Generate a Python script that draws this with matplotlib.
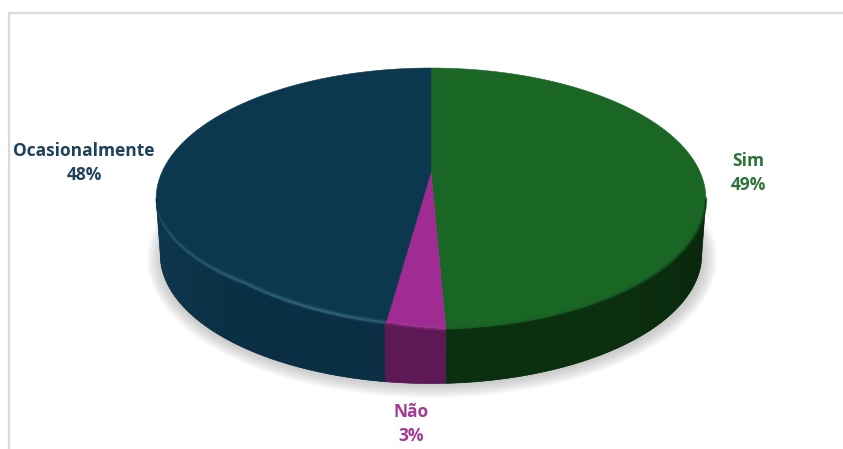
import numpy as np
import matplotlib
matplotlib.use("Agg")
import matplotlib.pyplot as plt
from matplotlib.collections import LineCollection
from matplotlib.patches import Ellipse, Polygon
from matplotlib.colors import to_rgb

categories = ["Sim", "Não", "Ocasionalmente"]
values = [49.3, 2.9, 47.8]
top_colors = ["#1a6625", "#a02b93", "#0c384f"]
side_colors = ["#0c3110", "#5e1a56", "#0a2e43"]
label_colors = ["#2f7339", "#a03a96", "#1d4259"]
label_xy = [(748, 173), (411, 424), (84, 163)]

W, H = 843, 449
fig = plt.figure(figsize=(W / 100, H / 100), dpi=100, facecolor="white")
ax = fig.add_axes([0, 0, 1, 1])
ax.set_xlim(0, W)
ax.set_ylim(H, 0)
ax.axis("off")

CX, APEX_Y, A, B, K = 431.0, 172.0, 269.0, 125.4, 0.206
DEPTH, SHRINK = 56.0, 0.985
FRONT = -0.2  # cosine of the angle where the disc is widest


def project(t, z=0.0):
    """t: clockwise angle from 12 o'clock, z: 0 top face, 1 bottom face."""
    u, v = np.sin(t), np.cos(t)
    w = 1 + K * v
    s = 1 + (SHRINK - 1) * z
    return np.column_stack([CX + A * s * u / w, APEX_Y + DEPTH * z - B * s * v / w])


def lift(t):
    """The wall reaches a little above the true rim on the front-left."""
    return np.interp(np.degrees(t), [177, 187, 215, 240, 258], [0, 5, 12, 6, 0], left=0, right=0)


def mix(c, other, f):
    c, other = np.array(to_rgb(c)), np.array(to_rgb(other))
    return c * (1 - f) + other * f


# soft shadow under the disc
for i in range(14):
    f = i / 13
    ax.add_patch(Ellipse((CX + 1, 259), 2 * (285 - 14 * f), 2 * (139 - 13 * f),
                         fc="#8a8a8a", ec="none", alpha=0.035, zorder=1))

total = sum(values)
edges = 2 * np.pi * np.concatenate([[0], np.cumsum(values)]) / total

# top face
for i in range(len(values)):
    ts = np.linspace(edges[i], edges[i + 1], 240)
    pts = np.vstack([[[CX, APEX_Y]], project(ts)])
    ax.fill(pts[:, 0], pts[:, 1], fc=top_colors[i], ec=top_colors[i], lw=0.4, zorder=2)

# side wall with a horizontal gradient, clipped to each slice's wall
xs = np.linspace(150, 712, 281)
for i in range(len(values)):
    ts = np.linspace(edges[i], edges[i + 1], 300)
    ts = ts[np.cos(ts) < FRONT]
    if len(ts) < 2:
        continue
    upper = project(ts, 0)
    upper[:, 1] -= lift(ts)
    lower = project(ts[::-1], 1)
    poly = Polygon(np.vstack([upper, lower]), closed=True, fc=side_colors[i], ec=side_colors[i],
                   lw=0.4, zorder=3, transform=ax.transData)
    ax.add_patch(poly)
    d = np.abs(xs - CX) / 275
    target = "#1c5570" if i == 2 else "#000000"
    strength = 0.22 * d ** 4 if i == 2 else 0.18 * d ** 4
    grad = np.array([mix(side_colors[i], target, s) for s in strength])[None, :, :]
    im = ax.imshow(grad, extent=(xs[0], xs[-1], 395, 190), aspect="auto", zorder=3.1,
                   interpolation="bilinear")
    im.set_clip_path(poly)
ax.set_xlim(0, W)
ax.set_ylim(H, 0)

# rounded rim following the front edge
for i in range(len(values)):
    ts = np.linspace(edges[i], edges[i + 1], 200)
    ts = ts[np.cos(ts) < FRONT]
    if len(ts) < 3:
        continue
    mids = (ts[:-1] + ts[1:]) / 2
    p = project(ts)
    p[:, 1] -= lift(ts)
    if i == 2:
        base, fade = "#3f7791", np.interp(np.degrees(mids), [187, 200, 240, 258], [0.85, 1, 0.55, 0])
    elif i == 1:
        base, fade = "#b34aa7", np.full(len(mids), 0.6)
    else:
        base, fade = "#12491a", np.clip(np.sin(mids), 0.3, 1)
    for dy, lw, al in [(-1.8, 2.2, 0.25), (-0.4, 1.6, 0.6), (1.0, 1.6, 0.25)]:
        q = p + [0, dy]
        segs = np.stack([q[:-1], q[1:]], axis=1)
        rgba = [(*to_rgb(base), al * s) for s in fade]
        ax.add_collection(LineCollection(segs, colors=rgba, linewidths=lw, zorder=4))

# frame of the chart area
ax.plot([8.5, 8.5, W], [H, 13, 13], color="#d9d9d9", lw=1.6, zorder=0, solid_joinstyle="miter")

# labels
for name, val, col, (x, y) in zip(categories, values, label_colors, label_xy):
    ax.text(x, y, f"{name}\n{round(val)}%", color=col, ha="center", va="center",
            fontsize=12.5, fontweight="bold", family="Open Sans", linespacing=1.42, zorder=5)

fig.savefig("out.png", dpi=100, facecolor="white")
